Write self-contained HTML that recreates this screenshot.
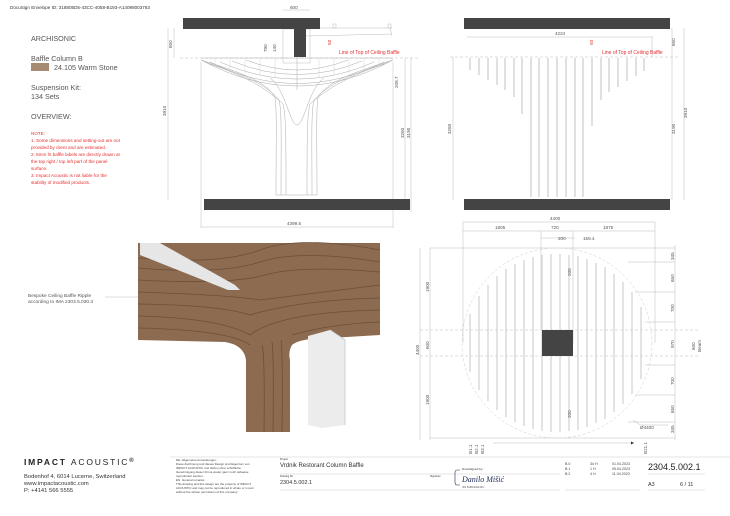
<!DOCTYPE html>
<html><head><meta charset="utf-8"><style>
html,body{margin:0;padding:0;background:#fff;}
svg{display:block;font-family:"Liberation Sans",sans-serif;}
</style></head><body>
<svg width="730" height="516" viewBox="0 0 730 516" xmlns="http://www.w3.org/2000/svg">
<rect width="730" height="516" fill="#fff"/>
<text x="10" y="9" font-size="4.6" fill="#333">DocuSign Envelope ID: 318805D5-43CC-4058-B193-A14098003763</text>

<g fill="#555" font-size="7.2">
<text x="31" y="41">ARCHISONIC</text>
<text x="31" y="61">Baffle Column B</text>
<text x="54" y="70">24.105 Warm Stone</text>
<text x="31" y="90">Suspension Kit:</text>
<text x="31" y="99">134 Sets</text>
<text x="31" y="119">OVERVIEW:</text>
</g>
<rect x="31" y="63" width="18" height="8" fill="#a68a72"/>
<g fill="#e53030" font-size="4.6">
<text x="31" y="135">NOTE:</text>
<text x="31" y="142">1. Some dimensions and setting-out are not</text>
<text x="31" y="149">provided by client and are estimated.</text>
<text x="31" y="156">2. 5mm ht baffle labels are directly drawn at</text>
<text x="31" y="163">the top right / top left part of the panel</text>
<text x="31" y="170">surface.</text>
<text x="31" y="177">3. Impact Acoustic is not liable for the</text>
<text x="31" y="184">stability of modified products.</text>
</g>

<!-- LEFT ELEVATION -->
<g stroke="#bbb" stroke-width="0.5" fill="none">
<line x1="168" y1="28" x2="168" y2="200"/>
<line x1="174" y1="28" x2="174" y2="58"/>
<line x1="180" y1="58" x2="420" y2="58" stroke-dasharray="3,2"/>
<line x1="283" y1="10" x2="310" y2="10"/>
<line x1="201" y1="227" x2="393" y2="227"/>
<line x1="201" y1="62" x2="201" y2="228"/>
<line x1="393" y1="62" x2="393" y2="228"/>
<line x1="405" y1="58" x2="405" y2="200"/>
<line x1="411" y1="58" x2="411" y2="212"/>
<line x1="306" y1="28" x2="392" y2="28"/>
<line x1="306" y1="36" x2="392" y2="34"/>
<line x1="390" y1="28" x2="392" y2="36"/>
<rect x="333" y="24" width="3" height="4"/><rect x="388" y="24" width="3" height="4"/>
<rect x="283" y="29" width="27" height="34"/>
</g>
<rect x="183" y="18" width="137" height="11" fill="#444"/>
<rect x="294" y="29" width="12" height="28" fill="#444"/>
<rect x="204" y="199" width="206" height="11" fill="#444"/>
<g stroke="#aaa" stroke-width="0.5" fill="none">
<line x1="201" y1="58" x2="393" y2="58"/>
<path d="M201,60 C240,72 268,82 275,98 C277,110 276,140 276,195"/>
<path d="M205,62 C242,74 266,84 279,100 C282,112 281,140 281,195"/>
<path d="M210,64 C245,76 266,88 283,104 C286,115 286,140 286,195"/>
<path d="M393,60 C354,72 326,82 318,98 C316,110 317,140 317,195"/>
<path d="M389,62 C352,74 328,84 314,100 C311,112 312,140 312,195"/>
<path d="M384,64 C349,76 328,88 310,104 C307,115 307,140 307,195"/>
<path d="M201,60 Q297,112 393,60"/>
<path d="M210,62 Q297,105 384,62"/>
<path d="M220,62 Q297,96 374,62"/>
<path d="M232,61 Q297,88 362,61"/>
<path d="M246,60 Q297,80 348,60"/>
<path d="M270,78 C285,88 290,125 297,125 C304,125 309,88 324,78"/>
<line x1="276" y1="195" x2="317" y2="195"/>
<line x1="297" y1="58" x2="297" y2="90"/>
</g>
<g stroke="#ccc" stroke-width="0.4">
<line x1="215" y1="58" x2="215" y2="66"/><line x1="230" y1="58" x2="230" y2="70"/><line x1="245" y1="58" x2="245" y2="73"/><line x1="260" y1="58" x2="260" y2="75"/><line x1="275" y1="58" x2="275" y2="78"/>
<line x1="379" y1="58" x2="379" y2="66"/><line x1="364" y1="58" x2="364" y2="70"/><line x1="349" y1="58" x2="349" y2="73"/><line x1="334" y1="58" x2="334" y2="75"/><line x1="319" y1="58" x2="319" y2="78"/>
</g>
<g fill="#555" font-size="4.6">
<text x="290" y="9">600</text>
<text x="287" y="225">4399.5</text>
<text transform="translate(166 116) rotate(-90)">3910</text>
<text transform="translate(172 48) rotate(-90)">650</text>
<text transform="translate(267 52) rotate(-90)">790</text>
<text transform="translate(276 52) rotate(-90)">140</text>
<text transform="translate(398 88) rotate(-90)">208.7</text>
<text transform="translate(404 138) rotate(-90)">3260</text>
<text transform="translate(410 138) rotate(-90)">3190</text>
</g>
<text transform="translate(331 45) rotate(-90)" font-size="4.8" fill="#e53030">50</text>
<text x="339" y="54" font-size="5" fill="#e53030">Line of Top of Ceiling Baffle</text>

<!-- RIGHT ELEVATION -->
<rect x="464" y="18" width="206" height="11" fill="#444"/>
<rect x="464" y="199" width="206" height="11" fill="#444"/>
<g stroke="#bbb" stroke-width="0.5" fill="none">
<line x1="467" y1="37" x2="653" y2="37"/>
<line x1="450" y1="57" x2="680" y2="57" stroke-dasharray="3,2"/>
<line x1="453" y1="57" x2="453" y2="200"/>
<line x1="672" y1="28" x2="672" y2="200"/>
<line x1="684" y1="28" x2="684" y2="200"/>
<line x1="652" y1="37" x2="652" y2="57"/>
</g>
<g stroke="#ccc" stroke-width="1.2">
<line x1="470" y1="58" x2="470" y2="70"/><line x1="479" y1="58" x2="479" y2="75"/><line x1="488" y1="58" x2="488" y2="80"/><line x1="497" y1="58" x2="497" y2="85"/><line x1="505" y1="58" x2="505" y2="90"/><line x1="514" y1="58" x2="514" y2="97"/><line x1="522" y1="58" x2="522" y2="114"/>
<line x1="531" y1="58" x2="531" y2="197"/><line x1="539" y1="58" x2="539" y2="197"/><line x1="548" y1="58" x2="548" y2="197"/><line x1="557" y1="58" x2="557" y2="197"/><line x1="566" y1="58" x2="566" y2="197"/><line x1="575" y1="58" x2="575" y2="197"/><line x1="583" y1="58" x2="583" y2="197"/>
<line x1="592" y1="58" x2="592" y2="126"/><line x1="601" y1="58" x2="601" y2="100"/><line x1="609" y1="58" x2="609" y2="92"/><line x1="618" y1="58" x2="618" y2="87"/><line x1="627" y1="58" x2="627" y2="81"/><line x1="636" y1="58" x2="636" y2="76"/><line x1="644" y1="58" x2="644" y2="71"/>
</g>
<g fill="#555" font-size="4.6">
<text x="555" y="35">4224</text>
<text transform="translate(451 134) rotate(-90)">3260</text>
<text transform="translate(675 46) rotate(-90)">650</text>
<text transform="translate(675 134) rotate(-90)">3190</text>
<text transform="translate(687 118) rotate(-90)">3910</text>
</g>
<text transform="translate(593 45) rotate(-90)" font-size="4.8" fill="#e53030">50</text>
<text x="602" y="54" font-size="5" fill="#e53030">Line of Top of Ceiling Baffle</text>

<!-- PLAN -->
<g stroke="#bbb" stroke-width="0.5" fill="none">
<line x1="463" y1="222" x2="655" y2="222"/>
<line x1="463" y1="231" x2="655" y2="231"/>
<line x1="541" y1="238" x2="575" y2="238"/>
<line x1="463" y1="222" x2="463" y2="343"/><line x1="655" y1="222" x2="655" y2="343"/>
<line x1="541" y1="231" x2="541" y2="330"/><line x1="573" y1="231" x2="573" y2="343"/>
<line x1="420" y1="248" x2="420" y2="440"/>
<line x1="430" y1="248" x2="430" y2="440"/>
<line x1="430" y1="248" x2="675" y2="248"/>
<line x1="430" y1="438" x2="675" y2="438"/>
<line x1="420" y1="330" x2="700" y2="330" stroke-dasharray="3,2"/>
<line x1="420" y1="356" x2="700" y2="356" stroke-dasharray="3,2"/>
<line x1="675" y1="245" x2="675" y2="440"/>
<line x1="628" y1="262" x2="675" y2="262"/><line x1="635" y1="292" x2="675" y2="292"/><line x1="645" y1="322" x2="675" y2="322"/><line x1="645" y1="365" x2="675" y2="365"/><line x1="635" y1="395" x2="675" y2="395"/><line x1="628" y1="422" x2="675" y2="422"/>
<circle cx="557" cy="343" r="95" stroke="#ccc" stroke-dasharray="3,2"/>
<line x1="493" y1="443" x2="634" y2="443"/>
<line x1="633" y1="420" x2="640" y2="425"/><line x1="640" y1="425" x2="668" y2="425"/>
</g>
<g stroke="#d4d4d4" stroke-width="1.3">
<line x1="470" y1="314" x2="470" y2="372"/><line x1="479" y1="296" x2="479" y2="390"/><line x1="488" y1="285" x2="488" y2="401"/><line x1="497" y1="276" x2="497" y2="410"/><line x1="506" y1="269" x2="506" y2="417"/><line x1="515" y1="264" x2="515" y2="422"/><line x1="524" y1="260" x2="524" y2="426"/><line x1="533" y1="257" x2="533" y2="429"/><line x1="542" y1="255" x2="542" y2="431"/><line x1="551" y1="254" x2="551" y2="432"/><line x1="560" y1="254" x2="560" y2="432"/><line x1="569" y1="255" x2="569" y2="431"/><line x1="578" y1="256" x2="578" y2="430"/><line x1="587" y1="259" x2="587" y2="427"/><line x1="596" y1="263" x2="596" y2="423"/><line x1="605" y1="267" x2="605" y2="419"/><line x1="614" y1="274" x2="614" y2="412"/><line x1="623" y1="282" x2="623" y2="404"/><line x1="632" y1="292" x2="632" y2="394"/><line x1="641" y1="307" x2="641" y2="379"/>
</g>
<rect x="542" y="330" width="31" height="26" fill="#444"/>
<g fill="#555" font-size="4.6">
<text x="550" y="220">4400</text>
<text x="495" y="229">1805</text><text x="551" y="229">720</text><text x="603" y="229">1875</text>
<text x="558" y="240">200</text><text x="583" y="240">159.4</text>
<text transform="translate(419 355) rotate(-90)">4400</text>
<text transform="translate(429 292) rotate(-90)">1900</text>
<text transform="translate(429 349) rotate(-90)">600</text>
<text transform="translate(429 405) rotate(-90)">1900</text>
<text transform="translate(571 276) rotate(-90)">200</text>
<text transform="translate(571 418) rotate(-90)">200</text>
<text transform="translate(674 260) rotate(-90)">345</text>
<text transform="translate(674 282) rotate(-90)">650</text>
<text transform="translate(674 312) rotate(-90)">700</text>
<text transform="translate(674 348) rotate(-90)">970</text>
<text transform="translate(674 385) rotate(-90)">700</text>
<text transform="translate(674 413) rotate(-90)">650</text>
<text transform="translate(674 433) rotate(-90)">345</text>
<text transform="translate(695 350) rotate(-90)">600</text>
<text transform="translate(701 352) rotate(-90)">Beam</text>
<text x="640" y="429">Ø4400</text>
<text transform="translate(472 454) rotate(-90)">B1.1</text>
<text transform="translate(478 454) rotate(-90)">B2.1</text>
<text transform="translate(484 454) rotate(-90)">B3.1</text>
<text transform="translate(647 454) rotate(-90)">B21.1</text>
</g>
<path d="M634,443 l-3,-1.5 v3z" fill="#333"/>

<!-- 3D RENDER -->
<path d="M138,243 L380,243 L380,335 L330,338 Q300,338 292,345 Q288,352 290,360 L290,432 L246,432 L246,360 Q244,345 225,342 L138,340 Z" fill="#8c6b50"/>
<g stroke="#6c4f38" stroke-width="0.8" fill="none">
<path d="M138,258 Q220,265 260,250 T380,250"/><path d="M138,268 Q220,275 260,262 T380,262"/><path d="M138,280 Q230,285 265,275 T380,272"/>
<path d="M138,292 Q230,295 260,300 Q300,295 380,285"/><path d="M138,304 Q220,305 250,315 Q300,300 380,298"/><path d="M138,316 Q220,318 250,335 Q280,312 380,310"/>
<path d="M138,328 Q230,330 250,345"/><path d="M292,335 Q330,324 380,322"/>
<path d="M262,345 Q265,355 264,432"/><path d="M272,342 Q274,355 273,432"/><path d="M281,340 Q283,355 282,432"/>
</g>
<path d="M140,243 L160,243 L235,285 L240,290 L228,290 L140,255 Z" fill="#e6e6e6"/>
<path d="M308,336 L330,330 L345,340 L345,425 L322,428 L308,425 Z" fill="#ececec"/>
<path d="M330,330 L345,340 L345,425" stroke="#d0d0d0" fill="none"/>
<line x1="105" y1="297" x2="138" y2="297" stroke="#bbb" stroke-width="0.5"/>
<g fill="#555" font-size="4.8"><text x="28" y="297">Bespoke Ceiling Baffle Ripple</text><text x="28" y="303">according to IMA 2303.5.030.3</text></g>

<!-- TITLE BLOCK -->
<text x="24" y="465" font-size="8.5" font-weight="bold" fill="#222" letter-spacing="1.8">IMPACT <tspan font-weight="normal">ACOUSTIC</tspan><tspan font-size="6" dy="-3">®</tspan></text>
<g fill="#333" font-size="5.8"><text x="24" y="478">Bodenhof 4, 6014 Lucerne, Switzerland</text><text x="24" y="485">www.impactacoustic.com</text><text x="24" y="492">P: +4141 566 5555</text></g>
<g fill="#444" font-size="3"><text x="176" y="461">DE. Allgemeine Anmerkungen:</text><text x="176" y="465">Diese Zeichnung und dieses Design sind Eigentum von</text><text x="176" y="469">IMPACT ACOUSTIC und dürfen ohne schriftliche</text><text x="176" y="473">Genehmigung dieser Firma weder ganz noch teilweise</text><text x="176" y="477">reproduziert werden.</text><text x="176" y="481">EN. General remarks:</text><text x="176" y="485">This drawing and this design are the property of IMPACT</text><text x="176" y="489">ACOUSTIC and may not be reproduced in whole or in part</text><text x="176" y="493">without the written permission of this company.</text></g>
<g stroke="#ccc" stroke-width="0.6">
<line x1="170" y1="457" x2="730" y2="457"/>
<line x1="280" y1="474" x2="560" y2="474"/>
<line x1="280" y1="490" x2="560" y2="490"/>
<line x1="565" y1="490" x2="640" y2="490"/>
<line x1="648" y1="474" x2="705" y2="474"/>
<line x1="648" y1="490" x2="705" y2="490"/>
</g>
<g fill="#333"><text x="280" y="467" font-size="6">Vrdnik Restorant Column Baffle</text><text x="280" y="484" font-size="5.5">2304.5.002.1</text>
<text x="280" y="460" font-size="2.5">Project</text><text x="280" y="477" font-size="2.5">Drawing No</text><text x="430" y="477" font-size="2.5">Signature</text></g>
<path d="M460,470 h-3 q-2,0 -2,3 v9 q0,3 2,3 h3" stroke="#1a2a5a" fill="none" stroke-width="0.6"/>
<text x="462" y="470" font-size="3" fill="#333">DocuSigned by:</text>
<text x="462" y="482" font-size="8" fill="#1a2a5a" font-style="italic" font-family="Liberation Serif,serif">Danilo Mišić</text>
<text x="462" y="488" font-size="2.5" fill="#555">361 5A8D4CE1433...</text>
<g fill="#444" font-size="3.6"><text x="565" y="465">B.0</text><text x="565" y="470">B.1</text><text x="565" y="475">B.2</text>
<text x="590" y="465">34 H</text><text x="590" y="470">1 H</text><text x="590" y="475">4 H</text>
<text x="612" y="465">01.04.2023</text><text x="612" y="470">05.04.2023</text><text x="612" y="475">11.04.2023</text></g>
<text x="648" y="470" font-size="9" fill="#222">2304.5.002.1</text>
<text x="648" y="486" font-size="5.5" fill="#333">A3</text><text x="680" y="486" font-size="5.5" fill="#333">6 / 11</text>
</svg>
</body></html>
